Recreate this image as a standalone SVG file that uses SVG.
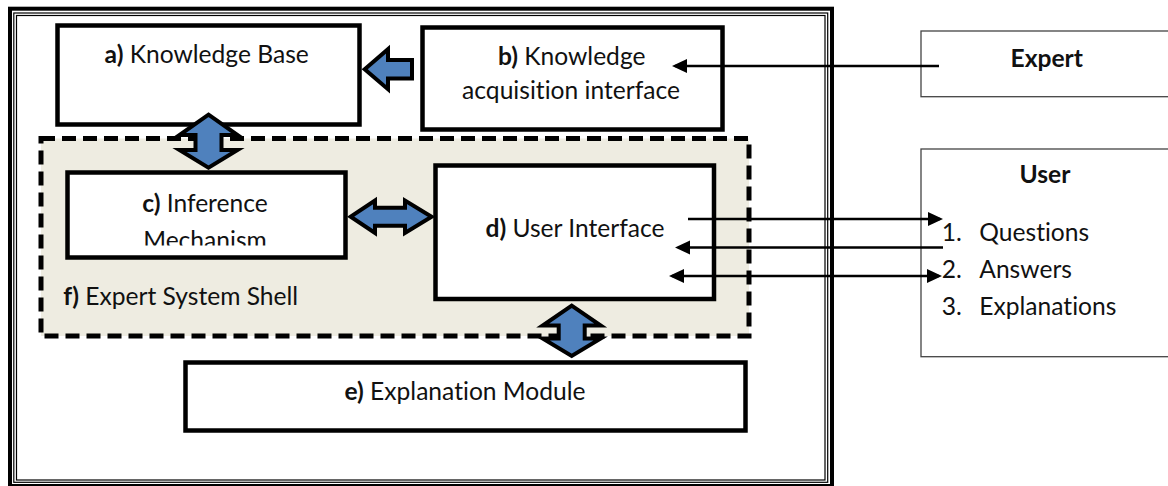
<svg xmlns="http://www.w3.org/2000/svg" width="1168" height="486" viewBox="0 0 1168 486">
<style>
.t{font-family:Lato,"Liberation Sans",sans-serif;font-size:24.6px;fill:#111;font-variant-ligatures:none}
.b{font-weight:bold}
.box{fill:#fff;stroke:#000;stroke-width:4.5}
.ext{fill:#fff;stroke:#444;stroke-width:1.3}
.blk{fill:#4F81BD;stroke:#000;stroke-width:4;stroke-linejoin:miter;stroke-miterlimit:10}
.ln{fill:none;stroke:#000;stroke-width:2.5}
</style>
<defs>
<marker id="ah" markerUnits="userSpaceOnUse" markerWidth="16" markerHeight="14" refX="12" refY="7" orient="auto-start-reverse" overflow="visible">
<path d="M0,0 L15,7 L0,14 z" fill="#000"/>
</marker>
<clipPath id="clipC"><rect x="70" y="175" width="273" height="70.5"/></clipPath>
</defs>
<rect width="1168" height="486" fill="#fff"/>
<g id="frame">
<rect x="10" y="8.7" width="822" height="477.3" fill="none" stroke="#000" stroke-width="4"/>
<rect x="13.8" y="13" width="813.9" height="469.3" fill="none" stroke="#000" stroke-width="1.2"/>
<rect x="16.5" y="15.5" width="808.5" height="464.5" fill="none" stroke="#000" stroke-width="1.2"/>
</g>
<g id="shell">
<rect x="41" y="138.5" width="708" height="197.5" fill="#EEECE1" stroke="#000" stroke-width="5" stroke-dasharray="14 7"/>
<text class="t" x="63.3" y="305"><tspan class="b">f)</tspan> Expert System Shell</text>
</g>
<g id="kb">
<rect class="box" x="57.5" y="25.5" width="302" height="99"/>
<text class="t" x="206.7" y="63" text-anchor="middle"><tspan class="b">a)</tspan> Knowledge Base</text>
</g>
<g id="kai">
<rect class="box" x="422.5" y="27.5" width="300" height="102"/>
<text class="t" x="571.7" y="65" text-anchor="middle"><tspan class="b">b)</tspan> Knowledge</text>
<text class="t" x="571" y="99.3" text-anchor="middle">acquisition interface</text>
</g>
<g id="inference">
<rect class="box" x="67.5" y="172.5" width="278" height="85"/>
<text class="t" x="205" y="211.7" text-anchor="middle"><tspan class="b">c)</tspan> Inference</text>
<text class="t" x="205" y="248.8" text-anchor="middle" clip-path="url(#clipC)">Mechanism</text>
</g>
<g id="ui">
<rect class="box" x="435.5" y="165.5" width="278.5" height="133.5"/>
<text class="t" x="575" y="237.3" text-anchor="middle"><tspan class="b">d)</tspan> User Interface</text>
</g>
<g id="explanation">
<rect class="box" x="185.5" y="362.5" width="560" height="68"/>
<text class="t" x="465" y="400" text-anchor="middle"><tspan class="b">e)</tspan> Explanation Module</text>
</g>
<g id="expert">
<rect class="ext" x="921" y="31" width="260" height="65.7"/>
<text class="t b" x="1046.7" y="66.7" text-anchor="middle">Expert</text>
</g>
<g id="user">
<rect class="ext" x="921" y="149" width="260" height="207.7"/>
<text class="t b" x="1045" y="183.3" text-anchor="middle">User</text>
<text class="t" x="941.7" y="241">1.</text><text class="t" x="979.3" y="241">Questions</text>
<text class="t" x="941.7" y="278.3">2.</text><text class="t" x="979.3" y="278.3">Answers</text>
<text class="t" x="941.7" y="315">3.</text><text class="t" x="979.3" y="315">Explanations</text>
</g>
<g id="connectors">
<polygon class="blk" points="364.7,69.2 388,49.2 388,59.9 412,59.9 412,78.5 388,78.5 388,89.2"/>
<polygon class="blk" points="208.5,114.7 237.5,135 221.5,135 221.5,150 237.5,150 208.5,167.6 179.5,150 195.5,150 195.5,135 179.5,135"/>
<polygon class="blk" points="350.7,216.7 375,200.5 375,207.7 405,207.7 405,200.5 431.6,216.7 405,232.9 405,225.7 375,225.7 375,232.9"/>
<polygon class="blk" points="571.7,305.7 600.7,325.5 584.7,325.5 584.7,338.5 600.7,338.5 571.7,356 542.7,338.5 558.7,338.5 558.7,325.5 542.7,325.5"/>
<path class="ln" d="M939,66 H675" marker-end="url(#ah)"/>
<path class="ln" d="M688,219 H940" marker-end="url(#ah)"/>
<path class="ln" d="M943,247.5 H678" marker-end="url(#ah)"/>
<path class="ln" d="M672,276 H939" marker-start="url(#ah)" marker-end="url(#ah)"/>
</g>
</svg>
